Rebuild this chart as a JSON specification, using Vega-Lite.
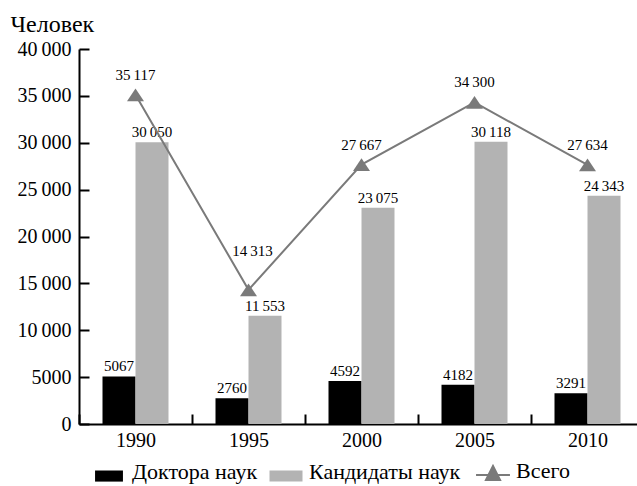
{
  "$schema": "https://vega.github.io/schema/vega-lite/v6.json",
  "width": 558,
  "height": 375,
  "autosize": {"type": "none"},
  "padding": {"left": 79, "top": 49, "right": 0, "bottom": 62},
  "data": {
    "values": [
      {"year": "1990", "series": "Доктора наук", "value": 5067},
      {"year": "1990", "series": "Кандидаты наук", "value": 30050},
      {"year": "1990", "series": "Всего", "value": 35117},
      {"year": "1995", "series": "Доктора наук", "value": 2760},
      {"year": "1995", "series": "Кандидаты наук", "value": 11553},
      {"year": "1995", "series": "Всего", "value": 14313},
      {"year": "2000", "series": "Доктора наук", "value": 4592},
      {"year": "2000", "series": "Кандидаты наук", "value": 23075},
      {"year": "2000", "series": "Всего", "value": 27667},
      {"year": "2005", "series": "Доктора наук", "value": 4182},
      {"year": "2005", "series": "Кандидаты наук", "value": 30118},
      {"year": "2005", "series": "Всего", "value": 34300},
      {"year": "2010", "series": "Доктора наук", "value": 3291},
      {"year": "2010", "series": "Кандидаты наук", "value": 24343},
      {"year": "2010", "series": "Всего", "value": 27634}
    ]
  },
  "transform": [
    {"calculate": "datum.value >= 10000 ? replace(format(datum.value, ','), ',', '\u2009') : format(datum.value, 'd')", "as": "label"}
  ],
  "encoding": {
    "x": {
      "field": "year", "type": "nominal",
      "scale": {"range": [0, 565], "paddingInner": 0, "paddingOuter": 0},
      "axis": {
        "title": null, "labelAngle": 0, "tickBand": "extent", "tickSize": -10, "labelPadding": 16,
        "domainColor": "black", "domainWidth": 2, "tickColor": "black", "tickWidth": 2,
        "labelFontSize": 20, "labelColor": "black", "labelFont": "Liberation Serif"
      }
    },
    "y": {
      "field": "value", "type": "quantitative",
      "scale": {"domain": [0, 40000]},
      "axis": {
        "title": "Человек", "titleAngle": 0, "titleAlign": "left", "titleBaseline": "alphabetic",
        "titleX": -69, "titleY": -18, "titleFontSize": 24, "titleFontWeight": "normal",
        "titleColor": "black", "titleFont": "Liberation Serif",
        "values": [0, 5000, 10000, 15000, 20000, 25000, 30000, 35000, 40000],
        "grid": false, "tickSize": -10, "labelPadding": 18,
        "labelExpr": "datum.value >= 10000 ? replace(format(datum.value, ','), ',', '\u2009') : format(datum.value, 'd')",
        "labelFontSize": 20, "labelColor": "black", "labelFont": "Liberation Serif",
        "domainColor": "black", "domainWidth": 2, "tickColor": "black", "tickWidth": 2
      }
    }
  },
  "layer": [
    {
      "transform": [{"filter": "datum.series !== 'Всего'"}],
      "mark": {"type": "bar"},
      "encoding": {
        "xOffset": {"field": "series", "type": "nominal", "scale": {"domain": ["Доктора наук", "Кандидаты наук"], "paddingInner": 0, "paddingOuter": 0.712}},
        "color": {
          "field": "series", "type": "nominal",
          "scale": {"domain": ["Доктора наук", "Кандидаты наук", "Всего"], "range": ["#000000", "#b3b3b3", "#7a7a7a"]},
          "legend": {
            "orient": "none", "legendX": 19, "legendY": 411, "direction": "horizontal", "columns": 3,
            "title": null, "labelFontSize": 22, "labelColor": "black", "labelFont": "Liberation Serif",
            "symbolSize": 900, "labelOffset": 12, "columnPadding": 11, "padding": 0,
            "encode": {
              "symbols": {
                "update": {
                  "shape": {"signal": "datum.value === 'Всего' ? 'M-1.13,0.27H1.13M-0.47,0.6L0.47,0.6L0,-0.33Z' : datum.value === 'Кандидаты наук' ? 'M-1.1,-0.1H1.1V0.64H-1.1Z' : 'M-0.93,-0.1H0.93V0.64H-0.93Z'"},
                  "size": {"value": 900},
                  "fill": {"signal": "scale('color', datum.value)"},
                  "stroke": {"signal": "scale('color', datum.value)"},
                  "strokeWidth": {"signal": "datum.value === 'Всего' ? 2 : 0"},
                  "opacity": {"value": 1},
                  "fillOpacity": {"value": 1}
                }
              }
            }
          }
        }
      }
    },
    {
      "transform": [{"filter": "datum.series !== 'Всего'"}],
      "mark": {"type": "text", "dy": -5, "baseline": "alphabetic", "fontSize": 15, "color": "black", "font": "Liberation Serif"},
      "encoding": {
        "xOffset": {"field": "series", "type": "nominal", "scale": {"domain": ["Доктора наук", "Кандидаты наук"], "paddingInner": 0, "paddingOuter": 0.712}},
        "text": {"field": "label"}
      }
    },
    {
      "transform": [{"filter": "datum.series === 'Всего'"}],
      "mark": {"type": "line", "strokeWidth": 2},
      "encoding": {"color": {"field": "series", "type": "nominal"}}
    },
    {
      "transform": [{"filter": "datum.series === 'Всего'"}],
      "mark": {"type": "point", "shape": "M-1,0.75L1,0.75L0,-0.75Z", "filled": true, "size": 289, "opacity": 1},
      "encoding": {"color": {"field": "series", "type": "nominal"}}
    },
    {
      "transform": [{"filter": "datum.series === 'Всего' && datum.year !== '1995'"}],
      "mark": {"type": "text", "dy": -15, "baseline": "alphabetic", "fontSize": 15, "color": "black", "font": "Liberation Serif"},
      "encoding": {"text": {"field": "label"}}
    },
    {
      "transform": [{"filter": "datum.series === 'Всего' && datum.year === '1995'"}],
      "mark": {"type": "text", "dx": 4, "dy": -34, "baseline": "alphabetic", "fontSize": 15, "color": "black", "font": "Liberation Serif"},
      "encoding": {"text": {"field": "label"}}
    }
  ],
  "config": {
    "font": "Liberation Serif",
    "view": {"stroke": null}
  }
}
